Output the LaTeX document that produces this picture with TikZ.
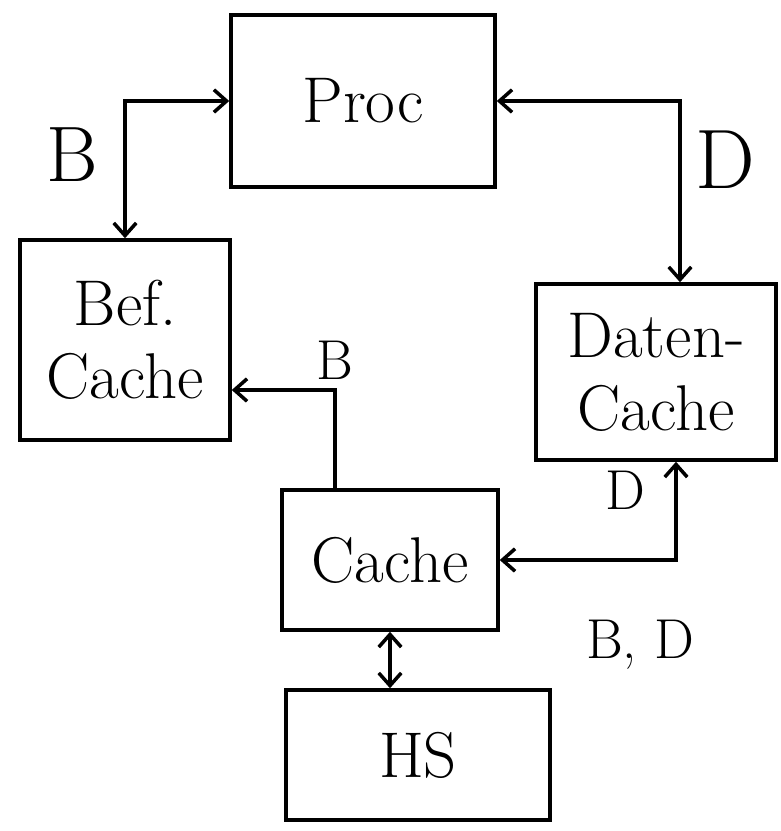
\documentclass[tikz,border=0pt]{standalone}
\usetikzlibrary{arrows.meta}

\begin{document}
\begin{tikzpicture}[x=0.025cm,y=-0.025cm]
	\tikzset{every node/.style={font=\fontsize{46}{52}\selectfont}}
	\tikzset{unit/.style={draw,line width=2.5pt,inner sep=0pt,align=center}}
	\tikzset{lbl/.style={font=\fontsize{40}{44}\selectfont}}
	\tikzset{conn/.style={line width=2.5pt,>={Straight Barb[length=9pt,width=16pt]}}}
	\useasboundingbox (0,0) rectangle (781,831);
	% units
	\node[unit,minimum width=6.6cm,minimum height=4.3cm] (proc) at (363,101) {Proc};
	\node[unit,minimum width=5.25cm,minimum height=5cm] (bef) at (125,340) {Bef.\\ Cache};
	\node[unit,minimum width=6cm,minimum height=4.4cm] (daten) at (656,372) {Daten-\\Cache};
	\node[unit,minimum width=5.4cm,minimum height=3.5cm] (cache) at (390,560) {Cache};
	\node[unit,minimum width=6.6cm,minimum height=3.25cm] (hs) at (418,755) {HS};
	% connectors
	\draw[conn,<->] (proc.west) -| (bef.north);
	\draw[conn,<->] (proc.east) -| ([xshift=0.6cm]daten.north);
	\draw[conn,->] ([xshift=-1.375cm]cache.north) |- ([yshift=-1.25cm]bef.east);
	\draw[conn,<->] ([xshift=0.5cm]daten.south) |- (cache.east);
	\draw[conn,<->] (cache.south) -- (cache.south |- hs.north);
	% labels
	\node[lbl,font=\fontsize{56}{60}\selectfont] (lb1) at (72,155) {B};
	\node[lbl,font=\fontsize{60}{64}\selectfont] (ld1) at (725,160) {D};
	\node[lbl] (lb2) at (335,360) {B};
	\node[lbl] (ld2) at (625,490) {D};
	\node[lbl] (lbd) at (640,645) {B, D};
\end{tikzpicture}
\end{document}
